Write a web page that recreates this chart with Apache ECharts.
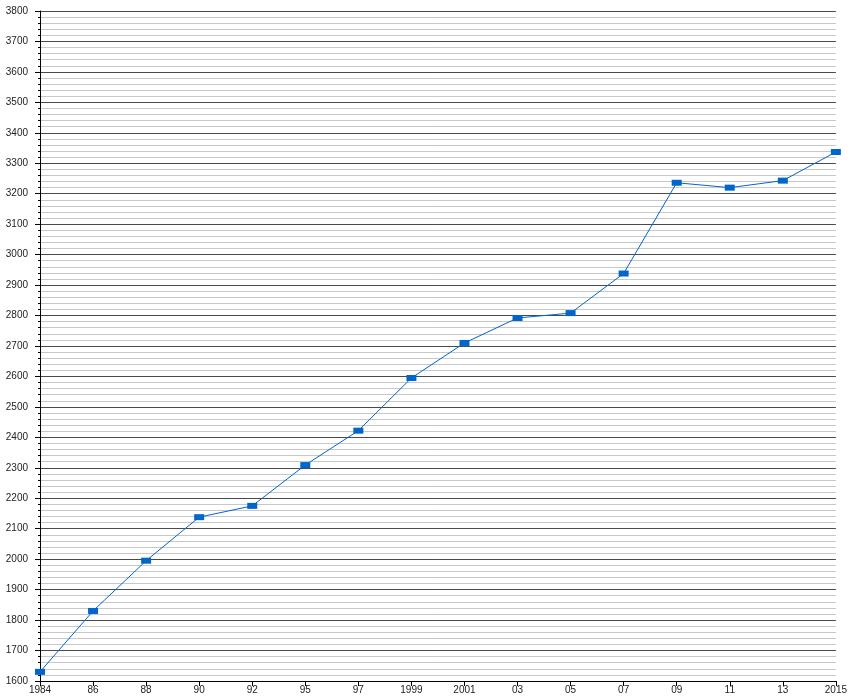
<!DOCTYPE html>
<html>
<head>
<meta charset="utf-8">
<script src="https://cdn.jsdelivr.net/npm/echarts@6/dist/echarts.min.js"></script>
<style>
html,body{margin:0;padding:0;background:#fff;}
#c{width:850px;height:700px;}
</style>
</head>
<body>
<div id="c"></div>
<script>
const categories = ['1984','86','88','90','92','95','97','1999','2001','03','05','07','09','11','13','2015'];
const values = [1630,1830,1995,2138,2175,2309,2422,2595,2710,2792,2808,2938,3236,3220,3243,3337];
const yMin = 1600, yMax = 3800, yStep = 100;

const chart = echarts.init(document.getElementById('c'), null, {renderer:'canvas'});
chart.setOption({
  animation:false,
  backgroundColor:'#ffffff',
  grid:{left:40,right:10,top:11,bottom:19,containLabel:false},
  xAxis:{
    type:'category',
    data:categories,
    boundaryGap:false,
    axisLine:{show:true,lineStyle:{color:'#000',width:1}},
    axisTick:{show:true,inside:false,length:5,alignWithLabel:true,lineStyle:{color:'#000'}},
    axisLabel:{show:true,interval:0,margin:4,color:'#222',fontSize:10,fontFamily:'Liberation Sans, Arial, sans-serif'},
    splitLine:{show:false}
  },
  yAxis:{
    type:'value',
    min:yMin,max:yMax,interval:yStep,
    axisLine:{show:true,lineStyle:{color:'#000',width:1}},
    axisTick:{show:true,inside:false,length:5,lineStyle:{color:'#000'}},
    minorTick:{show:true,splitNumber:5,length:2,lineStyle:{color:'#000'}},
    axisLabel:{show:true,margin:12,color:'#222',fontSize:10,fontFamily:'Liberation Sans, Arial, sans-serif',
      formatter:function(v){return String(v);}},
    splitLine:{show:true,lineStyle:{color:'#4a4a4a',width:1}},
    minorSplitLine:{show:true,lineStyle:{color:'#c8c8c8',width:1}}
  },
  series:[{
    type:'line',
    data:values,
    symbol:'rect',
    symbolSize:[10,6],
    showAllSymbol:true,
    itemStyle:{color:'#0066cc'},
    lineStyle:{color:'#0066cc',width:1},
    z:5
  }]
});
</script>
</body>
</html>
